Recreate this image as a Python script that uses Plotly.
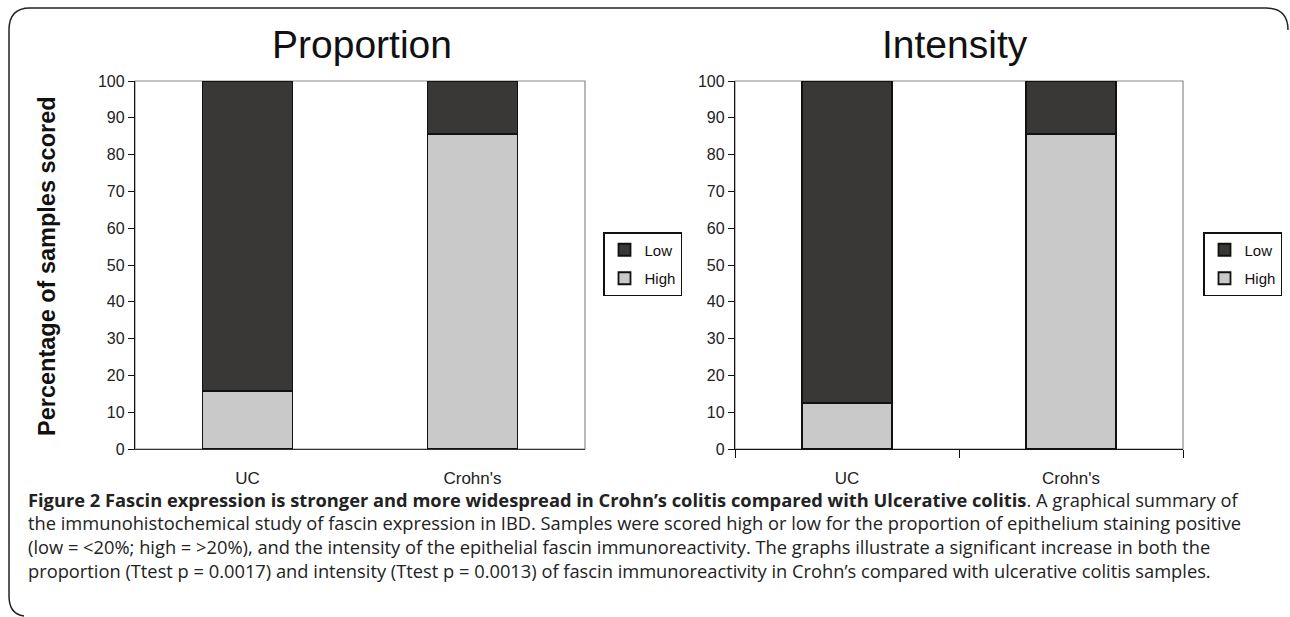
import plotly.graph_objects as go

W, H = 1290, 617

categories = ["UC", "Crohn's"]
prop_high = [15.8, 85.7]
prop_low = [84.2, 14.3]
int_high = [12.5, 85.7]
int_low = [87.5, 14.3]
y_ticks = [0, 10, 20, 30, 40, 50, 60, 70, 80, 90, 100]

titles = ["Proportion", "Intensity"]
y_title = "Percentage of samples scored"
caption_lines = [
    "<b>Figure 2 Fascin expression is stronger and more widespread in Crohn’s colitis compared with Ulcerative colitis</b>. A graphical summary of",
    "the immunohistochemical study of fascin expression in IBD. Samples were scored high or low for the proportion of epithelium staining positive",
    "(low = &lt;20%; high = &gt;20%), and the intensity of the epithelial fascin immunoreactivity. The graphs illustrate a significant increase in both the",
    "proportion (Ttest p = 0.0017) and intensity (Ttest p = 0.0013) of fascin immunoreactivity in Crohn’s compared with ulcerative colitis samples.",
]

LOW_C = "#3a3837"
HIGH_C = "#c9c9c9"
CHART_FONT = "Liberation Sans, Arial, sans-serif"
CAP_FONT = "Open Sans, Lato, sans-serif"


def px(x):
    return x / W


def py(y):
    return 1 - y / H


fig = go.Figure()

for i, (hi, lo) in enumerate([(prop_high, prop_low), (int_high, int_low)]):
    xa = "x" if i == 0 else "x2"
    ya = "y" if i == 0 else "y2"
    lg = "legend" if i == 0 else "legend2"
    fig.add_trace(go.Bar(x=categories, y=hi, name="High", marker=dict(color=HIGH_C, line=dict(color="#111", width=1.8)),
                         xaxis=xa, yaxis=ya, legend=lg, legendgroup=f"h{i}", legendrank=2))
    fig.add_trace(go.Bar(x=categories, y=lo, name="Low", marker=dict(color=LOW_C, line=dict(color="#111", width=1.8)),
                         xaxis=xa, yaxis=ya, legend=lg, legendgroup=f"l{i}", legendrank=1))

ydom = [py(449), py(81)]
dom1 = [px(135), px(585)]
dom2 = [px(735), px(1183)]

yax = dict(range=[0, 100], tickvals=y_ticks, ticks="outside", ticklen=6, tickcolor="#111", tickwidth=1.3,
           showline=True, linecolor="#111", linewidth=1.3, showgrid=False, zeroline=False,
           tickfont=dict(family=CHART_FONT, size=16, color="#222"), domain=ydom, fixedrange=True)

legend_common = dict(yanchor="top", xanchor="left", bordercolor="#111", borderwidth=1.5, bgcolor="white",
                     font=dict(family=CHART_FONT, size=15, color="#111"),
                     traceorder="grouped", tracegroupgap=6, itemwidth=30)

fig.update_layout(
    width=W, height=H,
    margin=dict(l=0, r=0, t=0, b=0, autoexpand=False),
    paper_bgcolor="white", plot_bgcolor="white",
    barmode="stack", bargap=0.6,
    showlegend=True,
    xaxis=dict(domain=dom1, showline=True, linecolor="#333", linewidth=1.3, ticks="", showgrid=False,
               tickfont=dict(family=CHART_FONT, size=17, color="#222"), ticklabelstandoff=13, anchor="y"),
    yaxis=dict(**yax, anchor="x"),
    xaxis2=dict(domain=dom2, showline=True, linecolor="#111", linewidth=1.3, ticks="outside", ticklen=8,
                tickcolor="#111", tickwidth=1.3, tickson="boundaries", showgrid=False,
                tickfont=dict(family=CHART_FONT, size=17, color="#222"), ticklabelstandoff=13, anchor="y2"),
    yaxis2=dict(**yax, anchor="x2"),
    legend=dict(x=px(603), y=py(232), **legend_common),
    legend2=dict(x=px(1203), y=py(232), **legend_common),
)

# plot-area borders (gray)
for xr, yr in [("x domain", "y domain"), ("x2 domain", "y2 domain")]:
    fig.add_shape(type="rect", xref=xr, yref=yr, x0=0, x1=1, y0=0, y1=1,
                  line=dict(color="#8a8a8a", width=1.2), layer="below")

# chart titles
for t, xc in zip(titles, [362, 955]):
    fig.add_annotation(text=t, x=px(xc), y=py(45), xref="paper", yref="paper", showarrow=False,
                       xanchor="center", yanchor="middle", font=dict(family=CHART_FONT, size=39, color="#111"))

fig.add_annotation(text=f"<b>{y_title}</b>", x=px(47), y=py(266), xref="paper", yref="paper", showarrow=False,
                   textangle=-90, xanchor="center", yanchor="middle",
                   font=dict(family=CHART_FONT, size=23.5, color="#111"))

# caption
for line, yc in zip(caption_lines, [499, 522, 546, 570]):
    fig.add_annotation(text=line, x=px(26), y=py(yc), xref="paper", yref="paper", showarrow=False,
                       xanchor="left", yanchor="middle", align="left",
                       font=dict(family=CAP_FONT, size=18.3, color="#222"))

# frame
def P(x, y):
    return f"{px(x):.5f},{py(y):.5f}"

path = (f"M {P(1288, 30)} Q {P(1288, 8)} {P(1266, 8)} L {P(30, 8)} Q {P(9, 8)} {P(9, 30)} "
        f"L {P(9, 596)} Q {P(9, 614)} {P(24, 616)}")
fig.add_shape(type="path", xref="paper", yref="paper", path=path, line=dict(color="#222", width=1.5))

fig.write_html("out.html", config={"displayModeBar": False},
               post_script="document.body.style.margin='0px';document.body.style.padding='0px';document.body.style.overflow='hidden';")
